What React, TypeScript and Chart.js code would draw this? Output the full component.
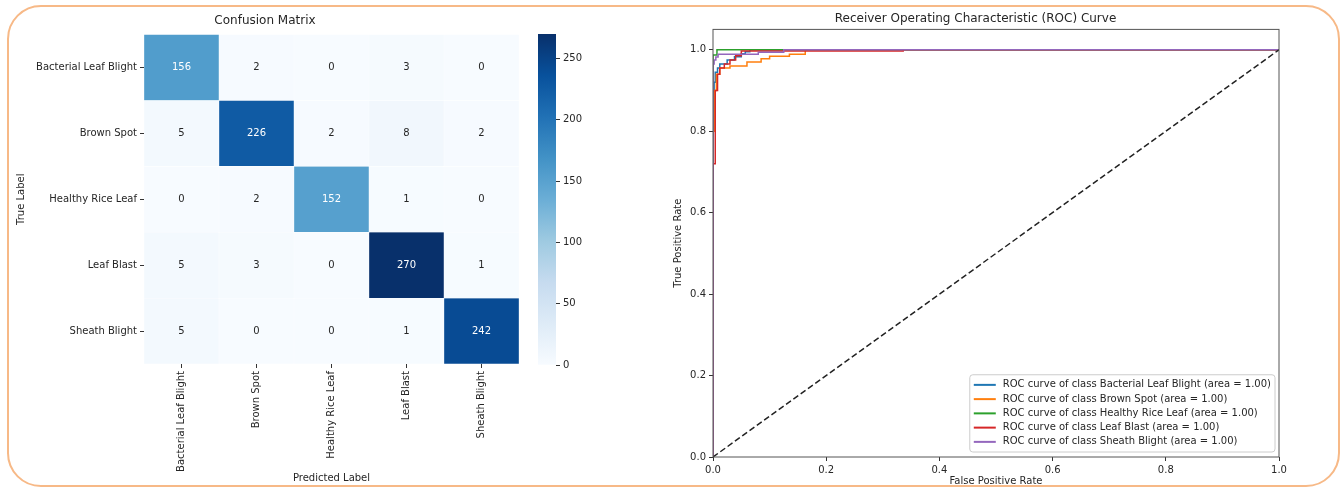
import React, { useEffect, useRef } from "react";
import { Chart, registerables } from "chart.js";

Chart.register(...registerables);
Chart.defaults.font.family = "'DejaVu Sans', sans-serif";
Chart.defaults.font.size = 10;
Chart.defaults.color = "#262626";

// ---------- data ----------
const classNames = ["Bacterial Leaf Blight", "Brown Spot", "Healthy Rice Leaf", "Leaf Blast", "Sheath Blight"];
const rowBLB = [156, 2, 0, 3, 0];
const rowBS = [5, 226, 2, 8, 2];
const rowHRL = [0, 2, 152, 1, 0];
const rowLB = [5, 3, 0, 270, 1];
const rowSB = [5, 0, 0, 1, 242];
const confusionRows = [rowBLB, rowBS, rowHRL, rowLB, rowSB];
const colorbarTicks = [0, 50, 100, 150, 200, 250];
const rocTicks = [0, 0.2, 0.4, 0.6, 0.8, 1.0];

const fprBLB = [0, 0, 0.002, 0.004, 0.008, 0.012, 0.025, 0.038, 0.05, 0.057, 0.065, 1];
const tprBLB = [0, 0.85, 0.92, 0.945, 0.955, 0.965, 0.975, 0.983, 0.99, 0.995, 1, 1];
const fprBS = [0, 0, 0.003, 0.006, 0.012, 0.03, 0.06, 0.085, 0.1, 0.135, 0.163, 1];
const tprBS = [0, 0.8, 0.9, 0.94, 0.955, 0.96, 0.97, 0.978, 0.984, 0.989, 1, 1];
const fprHRL = [0, 0, 0.007, 1];
const tprHRL = [0, 0.987, 1, 1];
const fprLB = [0, 0, 0.004, 0.008, 0.012, 0.02, 0.03, 0.04, 0.05, 0.336, 1];
const tprLB = [0, 0.72, 0.9, 0.94, 0.955, 0.965, 0.975, 0.985, 0.997, 1, 1];
const fprSB = [0, 0, 0.002, 0.005, 0.009, 0.08, 0.125, 1];
const tprSB = [0, 0.965, 0.975, 0.982, 0.989, 0.994, 1, 1];
const aucValues = [1.0, 1.0, 1.0, 1.0, 1.0];
const rocColors = ["#1f77b4", "#ff7f0e", "#2ca02c", "#d62728", "#9467bd"];
const rocFpr = [fprBLB, fprBS, fprHRL, fprLB, fprSB];
const rocTpr = [tprBLB, tprBS, tprHRL, tprLB, tprSB];

// ---------- colormap ----------
const BLUES = [
  [247, 251, 255], [222, 235, 247], [198, 219, 239], [158, 202, 225], [107, 174, 214],
  [66, 146, 198], [33, 113, 181], [8, 81, 156], [8, 48, 107],
];
const vmax = Math.max(...confusionRows.flat());

function bluesRGB(t: number): number[] {
  const c = Math.max(0, Math.min(1, t)) * 8;
  const i = Math.min(7, Math.floor(c));
  const f = c - i;
  return BLUES[i].map((v, k) => v + (BLUES[i + 1][k] - v) * f);
}
function blues(t: number): string {
  const [r, g, b] = bluesRGB(t);
  return `rgb(${Math.round(r)},${Math.round(g)},${Math.round(b)})`;
}
function textColorFor(v: number): string {
  const lin = bluesRGB(v / vmax).map((c) => {
    const s = c / 255;
    return s <= 0.03928 ? s / 12.92 : Math.pow((s + 0.055) / 1.055, 2.4);
  });
  const lum = 0.2126 * lin[0] + 0.7152 * lin[1] + 0.0722 * lin[2];
  return lum > 0.408 ? "#262626" : "#ffffff";
}

const tickGrid = { drawOnChartArea: false, drawTicks: true, tickLength: 4, color: "#333", offset: false };

const cellLabelPlugin = {
  id: "cellLabels",
  afterDatasetsDraw(chart: any) {
    const ctx = chart.ctx;
    ctx.save();
    ctx.font = "10px 'DejaVu Sans'";
    ctx.textAlign = "center";
    ctx.textBaseline = "middle";
    confusionRows.forEach((row, i) => {
      const meta = chart.getDatasetMeta(i);
      meta.data.forEach((el: any, j: number) => {
        const p = el.getProps(["x", "y", "base"], true);
        ctx.fillStyle = textColorFor(row[j]);
        ctx.fillText(String(row[j]), p.x, (p.y + p.base) / 2);
      });
    });
    ctx.restore();
  },
};

const framePlugin = {
  id: "frame",
  afterDatasetsDraw(chart: any) {
    const { ctx, chartArea: a } = chart;
    ctx.save();
    ctx.strokeStyle = "#555";
    ctx.lineWidth = 1;
    ctx.strokeRect(a.left, a.top, a.right - a.left, a.bottom - a.top);
    ctx.restore();
  },
};

const rocLegendPlugin = {
  id: "rocLegend",
  afterDraw(chart: any) {
    const { ctx, chartArea: a } = chart;
    const items = chart.data.datasets.filter((d: any) => d.inLegend);
    ctx.save();
    ctx.font = "10px 'DejaVu Sans'";
    const textW = Math.max(...items.map((d: any) => ctx.measureText(d.label).width));
    const rowH = 14.25, padX = 4, lineLen = 22, gap = 7;
    const w = padX + lineLen + gap + textW + padX;
    const h = rowH * items.length + 6;
    const right = a.right - 4, bottom = a.bottom - 5;
    const left = right - w, top = bottom - h;
    ctx.beginPath();
    ctx.roundRect(left, top, w, h, 3);
    ctx.fillStyle = "rgba(255,255,255,0.8)";
    ctx.fill();
    ctx.strokeStyle = "#cccccc";
    ctx.lineWidth = 1;
    ctx.stroke();
    ctx.textBaseline = "middle";
    ctx.textAlign = "left";
    items.forEach((d: any, i: number) => {
      const cy = top + 3 + rowH * (i + 0.5);
      ctx.beginPath();
      ctx.moveTo(left + padX, cy);
      ctx.lineTo(left + padX + lineLen, cy);
      ctx.strokeStyle = d.borderColor;
      ctx.lineWidth = 2;
      ctx.stroke();
      ctx.fillStyle = "#262626";
      ctx.fillText(d.label, left + padX + lineLen + gap, cy);
    });
    ctx.restore();
  },
};

export default function App() {
  const heatRef = useRef<HTMLCanvasElement>(null);
  const cbRef = useRef<HTMLCanvasElement>(null);
  const rocRef = useRef<HTMLCanvasElement>(null);

  useEffect(() => {
    const heat = new Chart(heatRef.current!, {
      type: "bar",
      data: {
        labels: classNames,
        datasets: confusionRows.map((row, i) => ({
          label: classNames[i],
          data: row.map(() => [i, i + 1]),
          backgroundColor: row.map((v) => blues(v / vmax)),
          borderColor: "rgba(255,255,255,0.55)",
          borderWidth: 0.5,
          borderSkipped: false,
          barPercentage: 1,
          categoryPercentage: 1,
          grouped: false,
        })),
      } as any,
      options: {
        responsive: false,
        animation: false,
        layout: { padding: { left: 11, right: 6, top: 0, bottom: 0 } },
        plugins: {
          legend: { display: false },
          tooltip: { enabled: false },
          title: {
            display: true,
            text: "Confusion Matrix",
            color: "#262626",
            font: { size: 12, weight: "normal" },
            padding: { top: 14, bottom: 6 },
          },
        },
        scales: {
          x: {
            type: "category",
            grid: tickGrid,
            border: { display: false },
            ticks: { maxRotation: 90, minRotation: 90, autoSkip: false, padding: 3 },
            title: { display: true, text: "Predicted Label", padding: { top: 0, bottom: 4 } },
            afterFit: (s: any) => { s.height = 124; },
          },
          y: {
            type: "linear",
            min: 0,
            max: 5,
            reverse: true,
            afterBuildTicks: (s: any) => { s.ticks = classNames.map((_, i) => ({ value: i + 0.5 })); },
            grid: tickGrid,
            border: { display: false },
            ticks: { padding: 3, callback: (_v: any, i: number) => classNames[i] },
            title: { display: true, text: "True Label", padding: { top: 4, bottom: 0 } },
            afterFit: (s: any) => { s.width = 133; },
          },
        },
      } as any,
      plugins: [cellLabelPlugin],
    });

    const cb = new Chart(cbRef.current!, {
      type: "bar",
      data: {
        labels: [""],
        datasets: [{
          data: [[0, vmax]],
          backgroundColor: (c: any) => {
            const chart = c.chart;
            if (!chart.chartArea) return blues(0.5);
            const y = chart.scales.y;
            const g = chart.ctx.createLinearGradient(0, y.getPixelForValue(0), 0, y.getPixelForValue(vmax));
            BLUES.forEach((col, k) => g.addColorStop(k / 8, `rgb(${col[0]},${col[1]},${col[2]})`));
            return g;
          },
          borderWidth: 0,
          barPercentage: 1,
          categoryPercentage: 1,
        }],
      } as any,
      options: {
        responsive: false,
        animation: false,
        layout: { padding: { left: 13, right: 0, top: 34, bottom: 123 } },
        plugins: { legend: { display: false }, tooltip: { enabled: false } },
        scales: {
          x: { display: false },
          y: {
            position: "right",
            min: 0,
            max: vmax,
            afterBuildTicks: (s: any) => { s.ticks = colorbarTicks.map((v) => ({ value: v })); },
            grid: tickGrid,
            border: { display: false },
            ticks: { padding: 3 },
            afterFit: (s: any) => { s.width = 40; },
          },
        },
      } as any,
    });

    const roc = new Chart(rocRef.current!, {
      type: "scatter",
      data: {
        datasets: [
          ...rocFpr.map((fpr, i) => ({
            label: `ROC curve of class ${classNames[i]} (area = ${aucValues[i].toFixed(2)})`,
            data: fpr.map((x, k) => ({ x, y: rocTpr[i][k] })),
            showLine: true,
            stepped: "before",
            borderColor: rocColors[i],
            backgroundColor: rocColors[i],
            borderWidth: 1.5,
            pointRadius: 0,
            order: 5 - i,
            inLegend: true,
          })),
          {
            label: "chance",
            data: [{ x: 0, y: 0 }, { x: 1, y: 1 }],
            showLine: true,
            borderColor: "#222",
            borderDash: [6, 3],
            borderWidth: 1.5,
            pointRadius: 0,
            order: 0,
          },
        ],
      } as any,
      options: {
        responsive: false,
        animation: false,
        layout: { padding: { left: 22, right: 64, top: 0, bottom: 1 } },
        plugins: {
          legend: { display: false },
          tooltip: { enabled: false },
          title: {
            display: true,
            text: "Receiver Operating Characteristic (ROC) Curve",
            color: "#262626",
            font: { size: 12, weight: "normal" },
            padding: { top: 12, bottom: 3 },
          },
        },
        scales: {
          x: {
            type: "linear",
            min: 0,
            max: 1,
            afterBuildTicks: (s: any) => { s.ticks = rocTicks.map((v) => ({ value: v })); },
            grid: tickGrid,
            border: { display: false },
            ticks: { padding: 3, maxRotation: 0, callback: (v: any) => Number(v).toFixed(1) },
            title: { display: true, text: "False Positive Rate", padding: { top: 0, bottom: 0 } },
            afterFit: (s: any) => { s.height = 30; },
          },
          y: {
            type: "linear",
            min: 0,
            max: 1.05,
            afterBuildTicks: (s: any) => { s.ticks = rocTicks.map((v) => ({ value: v })); },
            grid: tickGrid,
            border: { display: false },
            ticks: { padding: 3, callback: (v: any) => Number(v).toFixed(1) },
            title: { display: true, text: "True Positive Rate", padding: { top: 0, bottom: 0 } },
            afterFit: (s: any) => { s.width = 41; },
          },
        },
      } as any,
      plugins: [framePlugin, rocLegendPlugin],
    });

    return () => {
      heat.destroy();
      cb.destroy();
      roc.destroy();
    };
  }, []);

  return (
    <div style={{ position: "absolute", left: 0, top: 0, width: 1343, height: 488, background: "#fff", overflow: "hidden" }}>
      <div
        style={{
          position: "absolute",
          left: 7,
          top: 5,
          width: 1333,
          height: 482,
          border: "2px solid #f7b987",
          borderRadius: 34,
          boxSizing: "border-box",
        }}
      />
      <canvas ref={heatRef} width={525} height={488} style={{ position: "absolute", left: 0, top: 0 }} />
      <canvas ref={cbRef} width={71} height={488} style={{ position: "absolute", left: 525, top: 0 }} />
      <canvas ref={rocRef} width={693} height={488} style={{ position: "absolute", left: 650, top: 0 }} />
    </div>
  );
}
